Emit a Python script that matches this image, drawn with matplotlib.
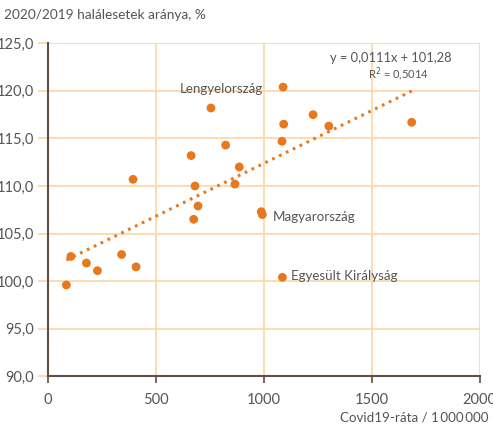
import matplotlib
matplotlib.use("Agg")
import matplotlib.pyplot as plt
import numpy as np

covid_rate = [755, 823, 663, 886, 866, 681, 394, 1089, 1092, 1228, 1301, 1084, 1685,
              695, 675, 106, 178, 229, 341, 408, 85, 988, 993, 1086]
death_ratio = [118.2, 114.3, 113.2, 112.0, 110.2, 110.0, 110.7, 120.4, 116.5, 117.5, 116.3, 114.7, 116.7,
               107.9, 106.5, 102.6, 101.9, 101.1, 102.8, 101.5, 99.6, 107.3, 107.0, 100.4]
labels = {"Lengyelország": 0, "Magyarország": 22, "Egyesült Királyság": 23}
slope, intercept = 0.0111, 101.28
x_ticks = [0, 500, 1000, 1500, 2000]
y_ticks = [90, 95, 100, 105, 110, 115, 120, 125]

plt.rcParams['font.family'] = ['Lato', 'DejaVu Sans']
orange = '#E8781E'
grid_c = '#FCD9AA'
text_c = '#555555'
axis_c = '#5E5047'
fs = 10.5
fl = 9.6

fig = plt.figure(figsize=(4.93, 4.29), dpi=100)
ax = fig.add_axes([48/493, 1-376.3/429, 431.7/493, 333/429])
ax.set_xlim(0, 2000)
ax.set_ylim(90, 125)
ax.set_xticks(x_ticks)
ax.set_yticks(y_ticks)
ax.set_xticklabels([str(v) for v in x_ticks])
ax.set_yticklabels([f"{v:.1f}".replace('.', ',') for v in y_ticks])
ax.grid(True, color=grid_c, lw=1.3)
ax.set_axisbelow(True)
for s in ['top', 'right']:
    ax.spines[s].set_visible(False)
for s in ['left', 'bottom']:
    ax.spines[s].set_color(axis_c)
    ax.spines[s].set_linewidth(1.5)
ax.tick_params(axis='y', colors=grid_c, length=7, width=1.3, labelcolor=text_c, labelsize=fs, pad=3)
ax.tick_params(axis='x', colors=axis_c, length=5, width=1.2, labelcolor=text_c, labelsize=fs, pad=7)

xmin, xmax = min(covid_rate), max(covid_rate)
xs = np.array([xmin, xmax])
ax.plot(xs, slope*xs + intercept, color=orange, lw=2.2, linestyle=(0, (0.9, 1.6)),
        dash_capstyle='butt', zorder=2)
ax.scatter(covid_rate, death_ratio, s=40, color=orange, edgecolors='none', zorder=3)

i = labels["Lengyelország"]
ax.text(802, death_ratio[i]+1.4, "Lengyelország", color=text_c, fontsize=fl,
        ha='center', va='bottom')
i = labels["Magyarország"]
ax.text(covid_rate[i]+50, death_ratio[i]-0.25, "Magyarország", color=text_c, fontsize=fl,
        ha='left', va='center')
i = labels["Egyesült Királyság"]
ax.text(covid_rate[i]+38, death_ratio[i]+0.1, "Egyesült Királyság", color=text_c, fontsize=fl,
        ha='left', va='center')

ax.text(1590, 123.45, "y = 0,0111x + 101,28", color=text_c, fontsize=9.3, ha='center', va='center')
ax.text(1622, 121.75, "R$^2$ = 0,5014", color=text_c, fontsize=8, ha='center', va='center')

fig.text(4/493, 1-15/429, "2020/2019 halálesetek aránya, %", color=text_c, fontsize=9.8,
         ha='left', va='center')
fig.text(489/493, 1-418/429, "Covid19-ráta / 1\u2009000\u2009000", color=text_c, fontsize=9.6,
         ha='right', va='center')

fig.savefig("out.png", dpi=100)
